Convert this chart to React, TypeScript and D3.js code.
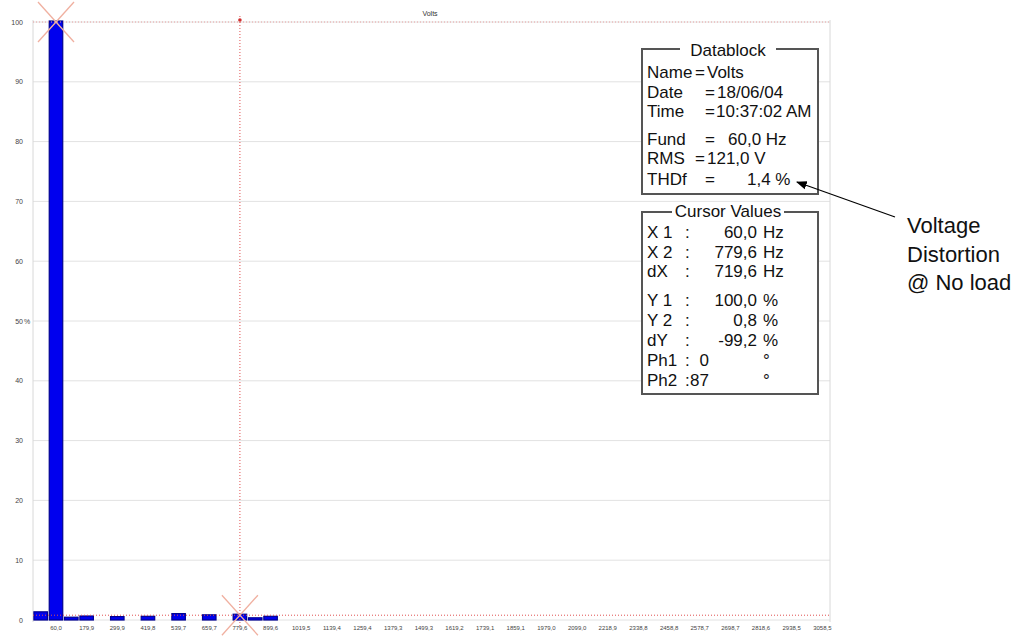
import React from "react";
import * as d3 from "d3";

// ---- data ----
const binIndex: number[] = [
  0, 1, 2, 3, 4, 5, 6, 7, 8, 9, 10, 11, 12, 13, 14, 15, 16, 17, 18, 19, 20, 21, 22, 23, 24, 25,
  26, 27, 28, 29, 30, 31, 32, 33, 34, 35, 36, 37, 38, 39, 40, 41, 42, 43, 44, 45, 46, 47, 48, 49, 50, 51,
];
const amplitudePct: number[] = [
  1.2, 100, 0.3, 0.5, 0, 0.4, 0, 0.45, 0, 0.9, 0, 0.7, 0, 0.8, 0.2, 0.45, 0, 0, 0, 0, 0, 0, 0, 0, 0, 0,
  0, 0, 0, 0, 0, 0, 0, 0, 0, 0, 0, 0, 0, 0, 0, 0, 0, 0, 0, 0, 0, 0, 0, 0, 0, 0,
];
const tickBins: number[] = [1, 3, 5, 7, 9, 11, 13, 15, 17, 19, 21, 23, 25, 27, 29, 31, 33, 35, 37, 39, 41, 43, 45, 47, 49, 51];
const tickLabels: string[] = [
  "60,0", "179,9", "299,9", "419,8", "539,7", "659,7", "779,6", "899,6", "1019,5", "1139,4", "1259,4",
  "1379,3", "1499,3", "1619,2", "1739,1", "1859,1", "1979,0", "2099,0", "2218,9", "2338,8", "2458,8",
  "2578,7", "2698,7", "2818,6", "2938,5", "3058,5",
];
const yTicks: number[] = [0, 10, 20, 30, 40, 50, 60, 70, 80, 90, 100];
const yTickLabels: string[] = ["0", "10", "20", "30", "40", "50", "60", "70", "80", "90", "100"];

const cursor1 = { bin: 1, pct: 100 };
const cursor2 = { bin: 13, pct: 0.8 };

const datablockRows: string[][] = [
  ["Name", "=", "Volts"],
  ["Date", "=", "18/06/04"],
  ["Time", "=", "10:37:02 AM"],
  ["Fund", "=", "60,0 Hz"],
  ["RMS", "=", "121,0 V"],
  ["THDf", "=", "1,4 %"],
];
const cursorRows: string[][] = [
  ["X 1", ":", "60,0", "Hz"],
  ["X 2", ":", "779,6", "Hz"],
  ["dX", ":", "719,6", "Hz"],
  ["Y 1", ":", "100,0", "%"],
  ["Y 2", ":", "0,8", "%"],
  ["dY", ":", "-99,2", "%"],
  ["Ph1", ":", "0", "°"],
  ["Ph2", ":", "87", "°"],
];
const noteLines: string[] = ["Voltage", "Distortion", "@ No load"];

export default function App() {
  const left = 33, right = 830, top = 22, bottom = 620;
  const x = d3.scaleBand<number>().domain(binIndex).range([left, right]).paddingInner(0.12).paddingOuter(0.06);
  const y = d3.scaleLinear().domain([0, 100]).range([bottom, top]);
  const cx = (b: number) => (x(b) as number) + x.bandwidth() / 2;
  const font = "'Liberation Sans', Arial, sans-serif";

  const dbBase = [78, 98, 117, 145, 164, 185];
  const dbEqX = [695, 705, 705, 705, 695, 705];
  const dbValX = [707, 717, 716, 728, 707, 747];
  const cvBase = [238, 258, 277, 306, 326, 346, 366, 386];

  const c1x = cx(cursor1.bin), c1y = y(cursor1.pct);
  const c2x = cx(cursor2.bin), c2y = y(cursor2.pct);

  return (
    <svg width={1021} height={636} style={{ position: "absolute", left: 0, top: 0, background: "#fff" }} fontFamily={font}>
      <defs>
        <marker id="ah" viewBox="0 0 10 10" refX="9" refY="5" markerWidth="9" markerHeight="9" orient="auto">
          <path d="M0,1 L10,5 L0,9 Z" fill="#000" />
        </marker>
      </defs>
      <rect x={0} y={0} width={1021} height={636} fill="#fff" />
      {/* title */}
      <text x={430} y={16} fontSize={7} textAnchor="middle" fill="#333">Volts</text>
      {/* grid */}
      {yTicks.map((t) => (
        <line key={t} x1={left} x2={right} y1={y(t)} y2={y(t)} stroke="#e2e2e2" strokeWidth={1} />
      ))}
      <line x1={left} x2={left} y1={top - 2} y2={bottom + 2} stroke="#d8d8d8" />
      <line x1={right} x2={right} y1={top - 2} y2={bottom + 2} stroke="#d8d8d8" />
      {/* y tick labels */}
      {yTicks.map((t, i) => (
        <g key={"yl" + t}>
          <text x={23} y={y(t) + 2.5} fontSize={7} textAnchor="end" fill="#444">{yTickLabels[i]}</text>
          {t === 50 && <text x={24} y={y(t) + 2.5} fontSize={7} fill="#444">%</text>}
        </g>
      ))}
      {/* x tick labels */}
      {tickBins.map((b, i) => (
        <text key={"xl" + b} x={cx(b)} y={630} fontSize={6} textAnchor="middle" fill="#444">{tickLabels[i]}</text>
      ))}
      {/* bars */}
      {binIndex.map((b, i) =>
        amplitudePct[i] > 0 ? (
          <rect key={"b" + b} x={x(b)} y={y(amplitudePct[i]) - 1} width={x.bandwidth()} height={bottom - y(amplitudePct[i]) + 1}
            fill="#0000ee" stroke="#000090" strokeWidth={1.2} />
        ) : null
      )}
      {/* cursors */}
      <line x1={left} x2={right} y1={c1y} y2={c1y} stroke="#e8a0a0" strokeDasharray="1,2" />
      <line x1={left} x2={right} y1={c2y} y2={c2y} stroke="#e05050" strokeDasharray="1,2" />
      <line x1={c2x} x2={c2x} y1={16} y2={626} stroke="#e05050" strokeDasharray="1,2" />
      <circle cx={c2x} cy={20} r={1.8} fill="#d03030" />
      {[[c1x, c1y], [c2x, c2y]].map(([px, py], i) => (
        <g key={"cr" + i} stroke="#f0b0a0" strokeWidth={1.3}>
          <line x1={px - 18} y1={py - 20} x2={px + 18} y2={py + 20} />
          <line x1={px + 18} y1={py - 20} x2={px - 18} y2={py + 20} />
        </g>
      ))}
      {/* datablock */}
      <rect x={642} y={49} width={176} height={145} fill="#fff" stroke="#555" strokeWidth={2} />
      <rect x={680} y={40} width={96} height={18} fill="#fff" />
      <text x={728} y={56} fontSize={17} textAnchor="middle" fill="#111">Datablock</text>
      {datablockRows.map((r, i) => (
        <g key={"db" + i} fontSize={17} fill="#111">
          <text x={647} y={dbBase[i]}>{r[0]}</text>
          <text x={dbEqX[i]} y={dbBase[i]}>{r[1]}</text>
          <text x={dbValX[i]} y={dbBase[i]}>{r[2]}</text>
        </g>
      ))}
      {/* cursor values */}
      <rect x={642} y={212} width={176} height={182} fill="#fff" stroke="#555" strokeWidth={2} />
      <rect x={672} y={203} width={112} height={18} fill="#fff" />
      <text x={728} y={217} fontSize={17} textAnchor="middle" fill="#111">Cursor Values</text>
      {cursorRows.map((r, i) => (
        <g key={"cv" + i} fontSize={17} fill="#111">
          <text x={647} y={cvBase[i]}>{r[0]}</text>
          <text x={685} y={cvBase[i]}>{r[1]}</text>
          <text x={i >= 6 ? 709 : 757} y={cvBase[i]} textAnchor="end">{r[2]}</text>
          <text x={763} y={cvBase[i]}>{r[3]}</text>
        </g>
      ))}
      {/* annotation */}
      <line x1={895} y1={217} x2={797} y2={182} stroke="#000" strokeWidth={1.2} markerEnd="url(#ah)" />
      {noteLines.map((t, i) => (
        <text key={"n" + i} x={907} y={[233, 262, 290][i]} fontSize={22} fill="#111">{t}</text>
      ))}
    </svg>
  );
}
